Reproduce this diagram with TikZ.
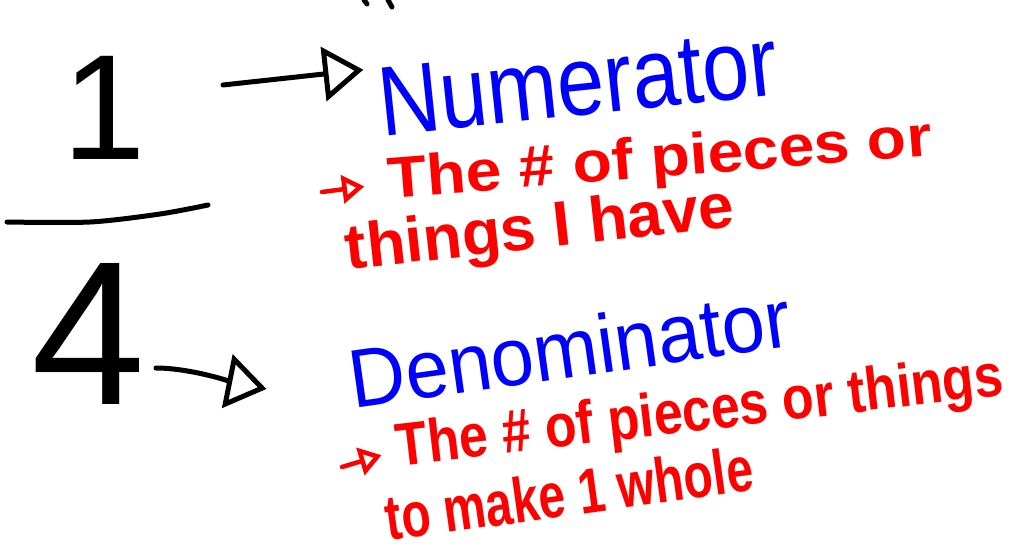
\documentclass[tikz,border=0pt]{standalone}
\usepackage{fontspec,graphicx}
\setmainfont{Liberation Sans}
\usetikzlibrary{arrows.meta}
\definecolor{handblue}{HTML}{0000FF}
\definecolor{handred}{HTML}{FF0000}
\begin{document}
\begin{tikzpicture}[x=1pt,y=-1pt,
  pen/.style={line width=5pt,line cap=round,line join=round},
  bigarrow/.style={pen,-{Triangle[open,length=40pt,width=54pt]}},
  redarrow/.style={handred,line width=4.5pt,line cap=round,line join=round,-{Triangle[open,length=22pt,width=28pt]}},
  word/.style={inner sep=0pt,handblue},
  note/.style={inner sep=0pt,handred,font=\bfseries}]
\useasboundingbox[fill=white] (0,0) rectangle (1013,552);
% the fraction
\node[inner sep=0pt,font=\fontsize{150}{150}\selectfont] (one) at (104,108) {1};
\node[inner sep=0pt,font=\fontsize{205}{205}\selectfont] (four) at (89,334) {4};
\draw[pen] plot[smooth] coordinates {(7,222) (90,222) (160,214) (208,205)};
\draw[pen] (364,0) -- (367,4); \draw[pen] (388,0) -- (392,7);
% labels
\node[word,rotate=6] (num) at (578,82) {\resizebox{400pt}{68pt}{Numerator}};
\node[word,rotate=8] (den) at (570,348) {\resizebox{445pt}{60pt}{Denominator}};
\node[note,rotate=4.5] (l1) at (660,162) {\resizebox{545pt}{42pt}{The \# of pieces or}};
\node[note,rotate=6.3] (l2) at (540,232) {\resizebox{390pt}{46pt}{things I have}};
\node[note,rotate=6.7] (l3) at (700,415) {\resizebox{610pt}{44pt}{The \# of pieces or things}};
\node[note,rotate=7.9] (l4) at (569,493) {\resizebox{370pt}{46pt}{to make 1 whole}};
% arrows
\coordinate (numtail) at (223,85); \coordinate (dentail) at (156,368);
\draw[bigarrow,shorten >=12pt] (numtail) -- (num.north west);
\draw[bigarrow] (dentail) .. controls +(35,0) and +(-30,-6) .. ([xshift=-83pt,yshift=-10pt]den.west);
\coordinate (b1) at (322,192); \coordinate (b2) at (342,467);
\draw[redarrow,shorten >=24pt] (b1) -- (l1.west);
\draw[redarrow,shorten >=16pt] (b2) -- (l3.west);
\end{tikzpicture}
\end{document}
